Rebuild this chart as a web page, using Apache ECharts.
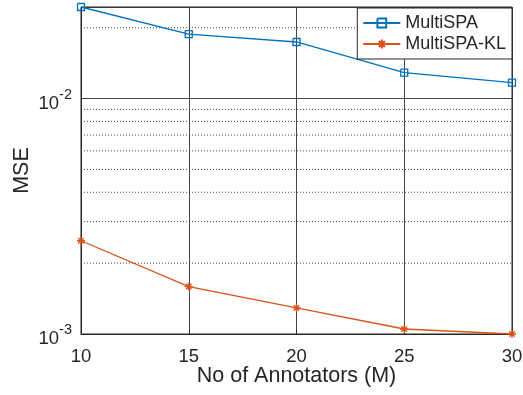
<!DOCTYPE html>
<html><head><meta charset="utf-8">
<script src="https://cdn.jsdelivr.net/npm/echarts@6/dist/echarts.min.js"></script>
<style>html,body{margin:0;padding:0;background:#fff}#c{width:523px;height:395px}</style>
</head><body><div id="c"></div>
<script>
var categories = [10, 15, 20, 25, 30];
var multiSPA = [0.0245, 0.0188, 0.0174, 0.0129, 0.0117];
var multiSPAKL = [0.00249, 0.00159, 0.00129, 0.00105, 0.00100];
var minorGrid = [0.002, 0.003, 0.004, 0.005, 0.006, 0.007, 0.008, 0.009, 0.02];
var yTickLabels = {'0.001': '-3', '0.01': '-2'};

var FONT = 'Liberation Sans, Arial, Helvetica, sans-serif';
var chart = echarts.init(document.getElementById('c'));
function pairs(vals){ return categories.map(function(x,i){ return [x, vals[i]]; }); }
var asterisk = 'path://M0,-1L0,1M-1,0L1,0M-0.7,-0.7L0.7,0.7M-0.7,0.7L0.7,-0.7';
var square = 'path://M-1,-1L1,-1L1,1L-1,1L-1,-1';
var xMin = categories[0], xMax = categories[categories.length - 1];

var gridSeries = minorGrid.map(function(v){
  return {
    type: 'line', silent: true, symbol: 'none', animation: false,
    data: [[xMin, v], [xMax, v]],
    lineStyle: {type: [1, 2], color: '#262626', width: 1, opacity: 0.85},
    tooltip: {show: false}, z: 1
  };
});

chart.setOption({
  animation: false,
  backgroundColor: '#fff',
  textStyle: {fontFamily: FONT},
  grid: {left: 81, right: 11, top: 7, bottom: 61, show: true, borderColor: '#262626', borderWidth: 1, backgroundColor: 'transparent', containLabel: false, outerBoundsMode: 'none'},
  legend: {
    right: 11, top: 8, orient: 'vertical', align: 'left',
    backgroundColor: '#fff', borderColor: '#262626', borderWidth: 1, borderRadius: 0,
    padding: [6, 6, 6, 5], itemWidth: 37, itemHeight: 11, itemGap: 3,
    textStyle: {fontSize: 18, color: '#262626', fontFamily: FONT},
    data: ['MultiSPA', 'MultiSPA-KL']
  },
  xAxis: {
    type: 'value', min: xMin, max: xMax, interval: 5,
    name: 'No of Annotators (M)', nameLocation: 'middle', nameGap: 31, nameMoveOverlap: false,
    nameTextStyle: {fontSize: 21.5, color: '#262626'},
    axisLine: {show: true, lineStyle: {color: '#262626'}},
    axisTick: {show: true, inside: true, length: 4, lineStyle: {color: '#262626'}},
    axisLabel: {fontSize: 18.5, color: '#262626', margin: 13},
    splitLine: {show: true, lineStyle: {color: '#262626', width: 1, opacity: 0.85}}
  },
  yAxis: {
    type: 'log', logBase: 10, min: 0.001, max: 0.0245,
    name: 'MSE', nameLocation: 'middle', nameGap: 48, nameMoveOverlap: false,
    nameTextStyle: {fontSize: 21.5, color: '#262626'},
    axisLine: {show: true, lineStyle: {color: '#262626'}},
    axisTick: {show: false},
    axisLabel: {
      color: '#262626', margin: 9,
      formatter: function(v){
        var k = String(+v.toPrecision(3));
        return yTickLabels[k] ? '{b|10}{s|' + yTickLabels[k] + '}' : '';
      },
      rich: {b: {fontSize: 18.5, color: '#262626', fontFamily: FONT, padding: [10,0,0,0]}, s: {fontSize: 14.5, color: '#262626', fontFamily: FONT, padding: [0,0,8,0]}}
    },
    splitLine: {show: true, lineStyle: {color: '#262626', width: 1, opacity: 0.85}}
  },
  series: gridSeries.concat([
    {
      name: 'MultiSPA', type: 'line', data: pairs(multiSPA),
      symbol: square, symbolSize: 7,
      lineStyle: {color: '#0072BD', width: 1.3},
      itemStyle: {color: 'rgba(0,0,0,0)', borderColor: '#0072BD', borderWidth: 1.3},
      z: 3
    },
    {
      name: 'MultiSPA-KL', type: 'line', data: pairs(multiSPAKL),
      symbol: asterisk, symbolSize: 8,
      lineStyle: {color: '#D95319', width: 1.3},
      itemStyle: {color: '#D95319', borderColor: '#D95319', borderWidth: 1.3},
      z: 3
    }
  ])
});
</script></body></html>
